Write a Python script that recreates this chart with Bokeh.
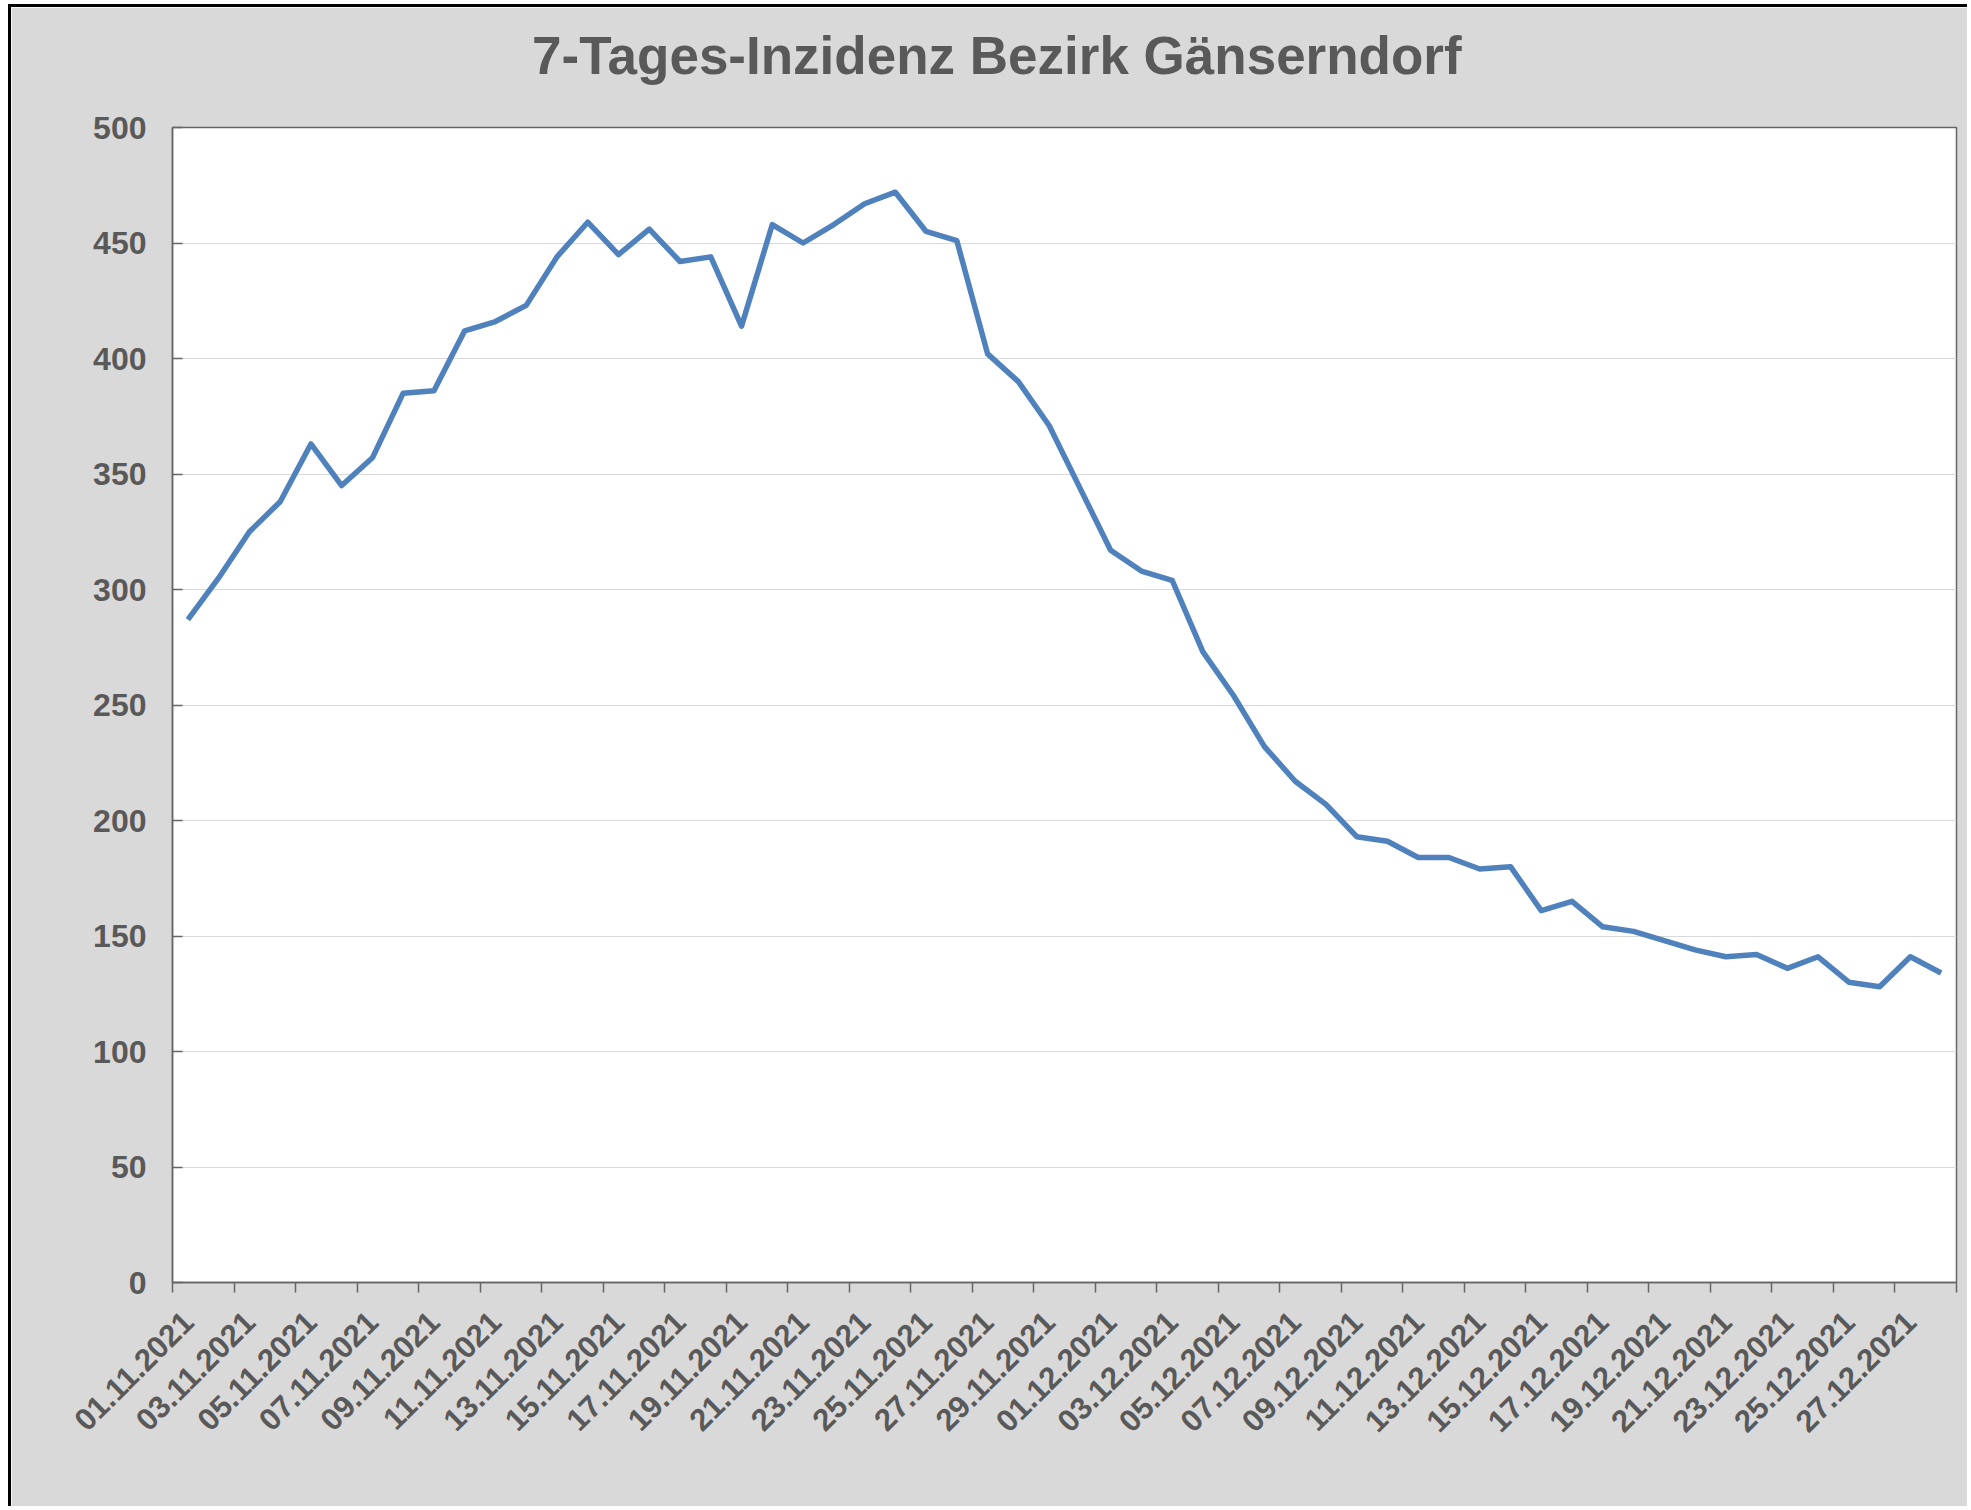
import pandas as pd
from math import pi
from bokeh.plotting import figure
from bokeh.models import Range1d, FixedTicker, LinearAxis, ColumnDataSource
from bokeh.embed import file_html
from bokeh.resources import INLINE

# ---- data ----
dates = pd.date_range("2021-11-01", "2021-12-28", freq="D").strftime("%d.%m.%Y").tolist()
incidence = [287, 305, 325, 338, 363, 345, 357, 385, 386, 412,
             416, 423, 444, 459, 445, 456, 442, 444, 414, 458,
             450, 458, 467, 472, 455, 451, 402, 390, 371, 344,
             317, 308, 304, 273, 254, 232, 217, 207, 193, 191,
             184, 184, 179, 180, 161, 165, 154, 152, 148, 144,
             141, 142, 136, 141, 130, 128, 141, 134]
y_ticks = list(range(0, 501, 50))
label_step = 2
title_text = "7-Tages-Inzidenz Bezirk Gänserndorf"

n = len(dates)
xs = list(range(n))
src = ColumnDataSource(dict(x=xs, y=incidence, date=dates))

FONT = "Liberation Sans"
TXT = "#595959"
AXC = "#666666"

p = figure(width=1959, height=1502, output_backend="svg", toolbar_location=None,
           x_range=Range1d(-0.5, n - 0.5), y_range=Range1d(0, 500),
           x_axis_type=None,
           min_border_left=161, min_border_right=14, min_border_top=120, min_border_bottom=227)

p.styles = {"border-top": "3px solid black", "border-left": "3px solid black",
            "margin-left": "8px", "margin-top": "4px"}
p.background_fill_color = "white"
p.border_fill_color = "#D9D9D9"
p.outline_line_color = AXC
p.outline_line_width = 1.5

# chart title, drawn as the single label of an axis placed above the plot area
title_x = 26.3  # horizontal centre of the title (category units)
ta = LinearAxis(ticker=FixedTicker(ticks=[title_x]))
ta.major_label_overrides = {title_x: title_text}
ta.major_label_text_font = FONT
ta.major_label_text_font_size = "53px"
ta.major_label_text_font_style = "bold"
ta.major_label_text_color = TXT
ta.major_label_standoff = 43
ta.major_tick_line_color = None
ta.major_tick_in = 0
ta.major_tick_out = 0
ta.minor_tick_line_color = None
ta.axis_line_color = None
p.add_layout(ta, "above")

# y axis
ya = p.yaxis[0]
ya.ticker = FixedTicker(ticks=y_ticks)
ya.major_tick_in = 10
ya.major_tick_out = 0
ya.minor_tick_line_color = None
ya.axis_line_color = AXC
ya.axis_line_width = 1.5
ya.major_tick_line_color = AXC
ya.major_tick_line_width = 1.5
ya.major_label_text_font = FONT
ya.major_label_text_font_size = "32px"
ya.major_label_text_font_style = "bold"
ya.major_label_text_color = TXT
ya.major_label_standoff = 26

p.ygrid.ticker = FixedTicker(ticks=y_ticks)
p.ygrid.grid_line_color = "#D9D9D9"
p.ygrid.grid_line_width = 1.2

# x axis: date labels (major) with tick marks at category boundaries (minor)
label_pos = list(range(0, n, label_step))
tick_pos = [i - 0.5 for i in range(0, n + 1, label_step)]
xl = LinearAxis(ticker=FixedTicker(ticks=label_pos, minor_ticks=tick_pos))
xl.major_label_overrides = {i: dates[i] for i in label_pos}
xl.major_label_orientation = pi / 4
xl.major_label_text_font = FONT
xl.major_label_text_font_size = "31px"
xl.major_label_text_font_style = "bold"
xl.major_label_text_color = TXT
xl.major_label_standoff = 24
xl.major_tick_line_color = None
xl.major_tick_in = 0
xl.major_tick_out = 0
xl.minor_tick_in = 0
xl.minor_tick_out = 10
xl.minor_tick_line_color = AXC
xl.minor_tick_line_width = 1.5
xl.axis_line_color = AXC
xl.axis_line_width = 1.5
p.add_layout(xl, "below")

p.line("x", "y", source=src, line_color="#4F81BD", line_width=5.5, line_join="round")

open("out.html", "w").write(file_html(p, INLINE))
